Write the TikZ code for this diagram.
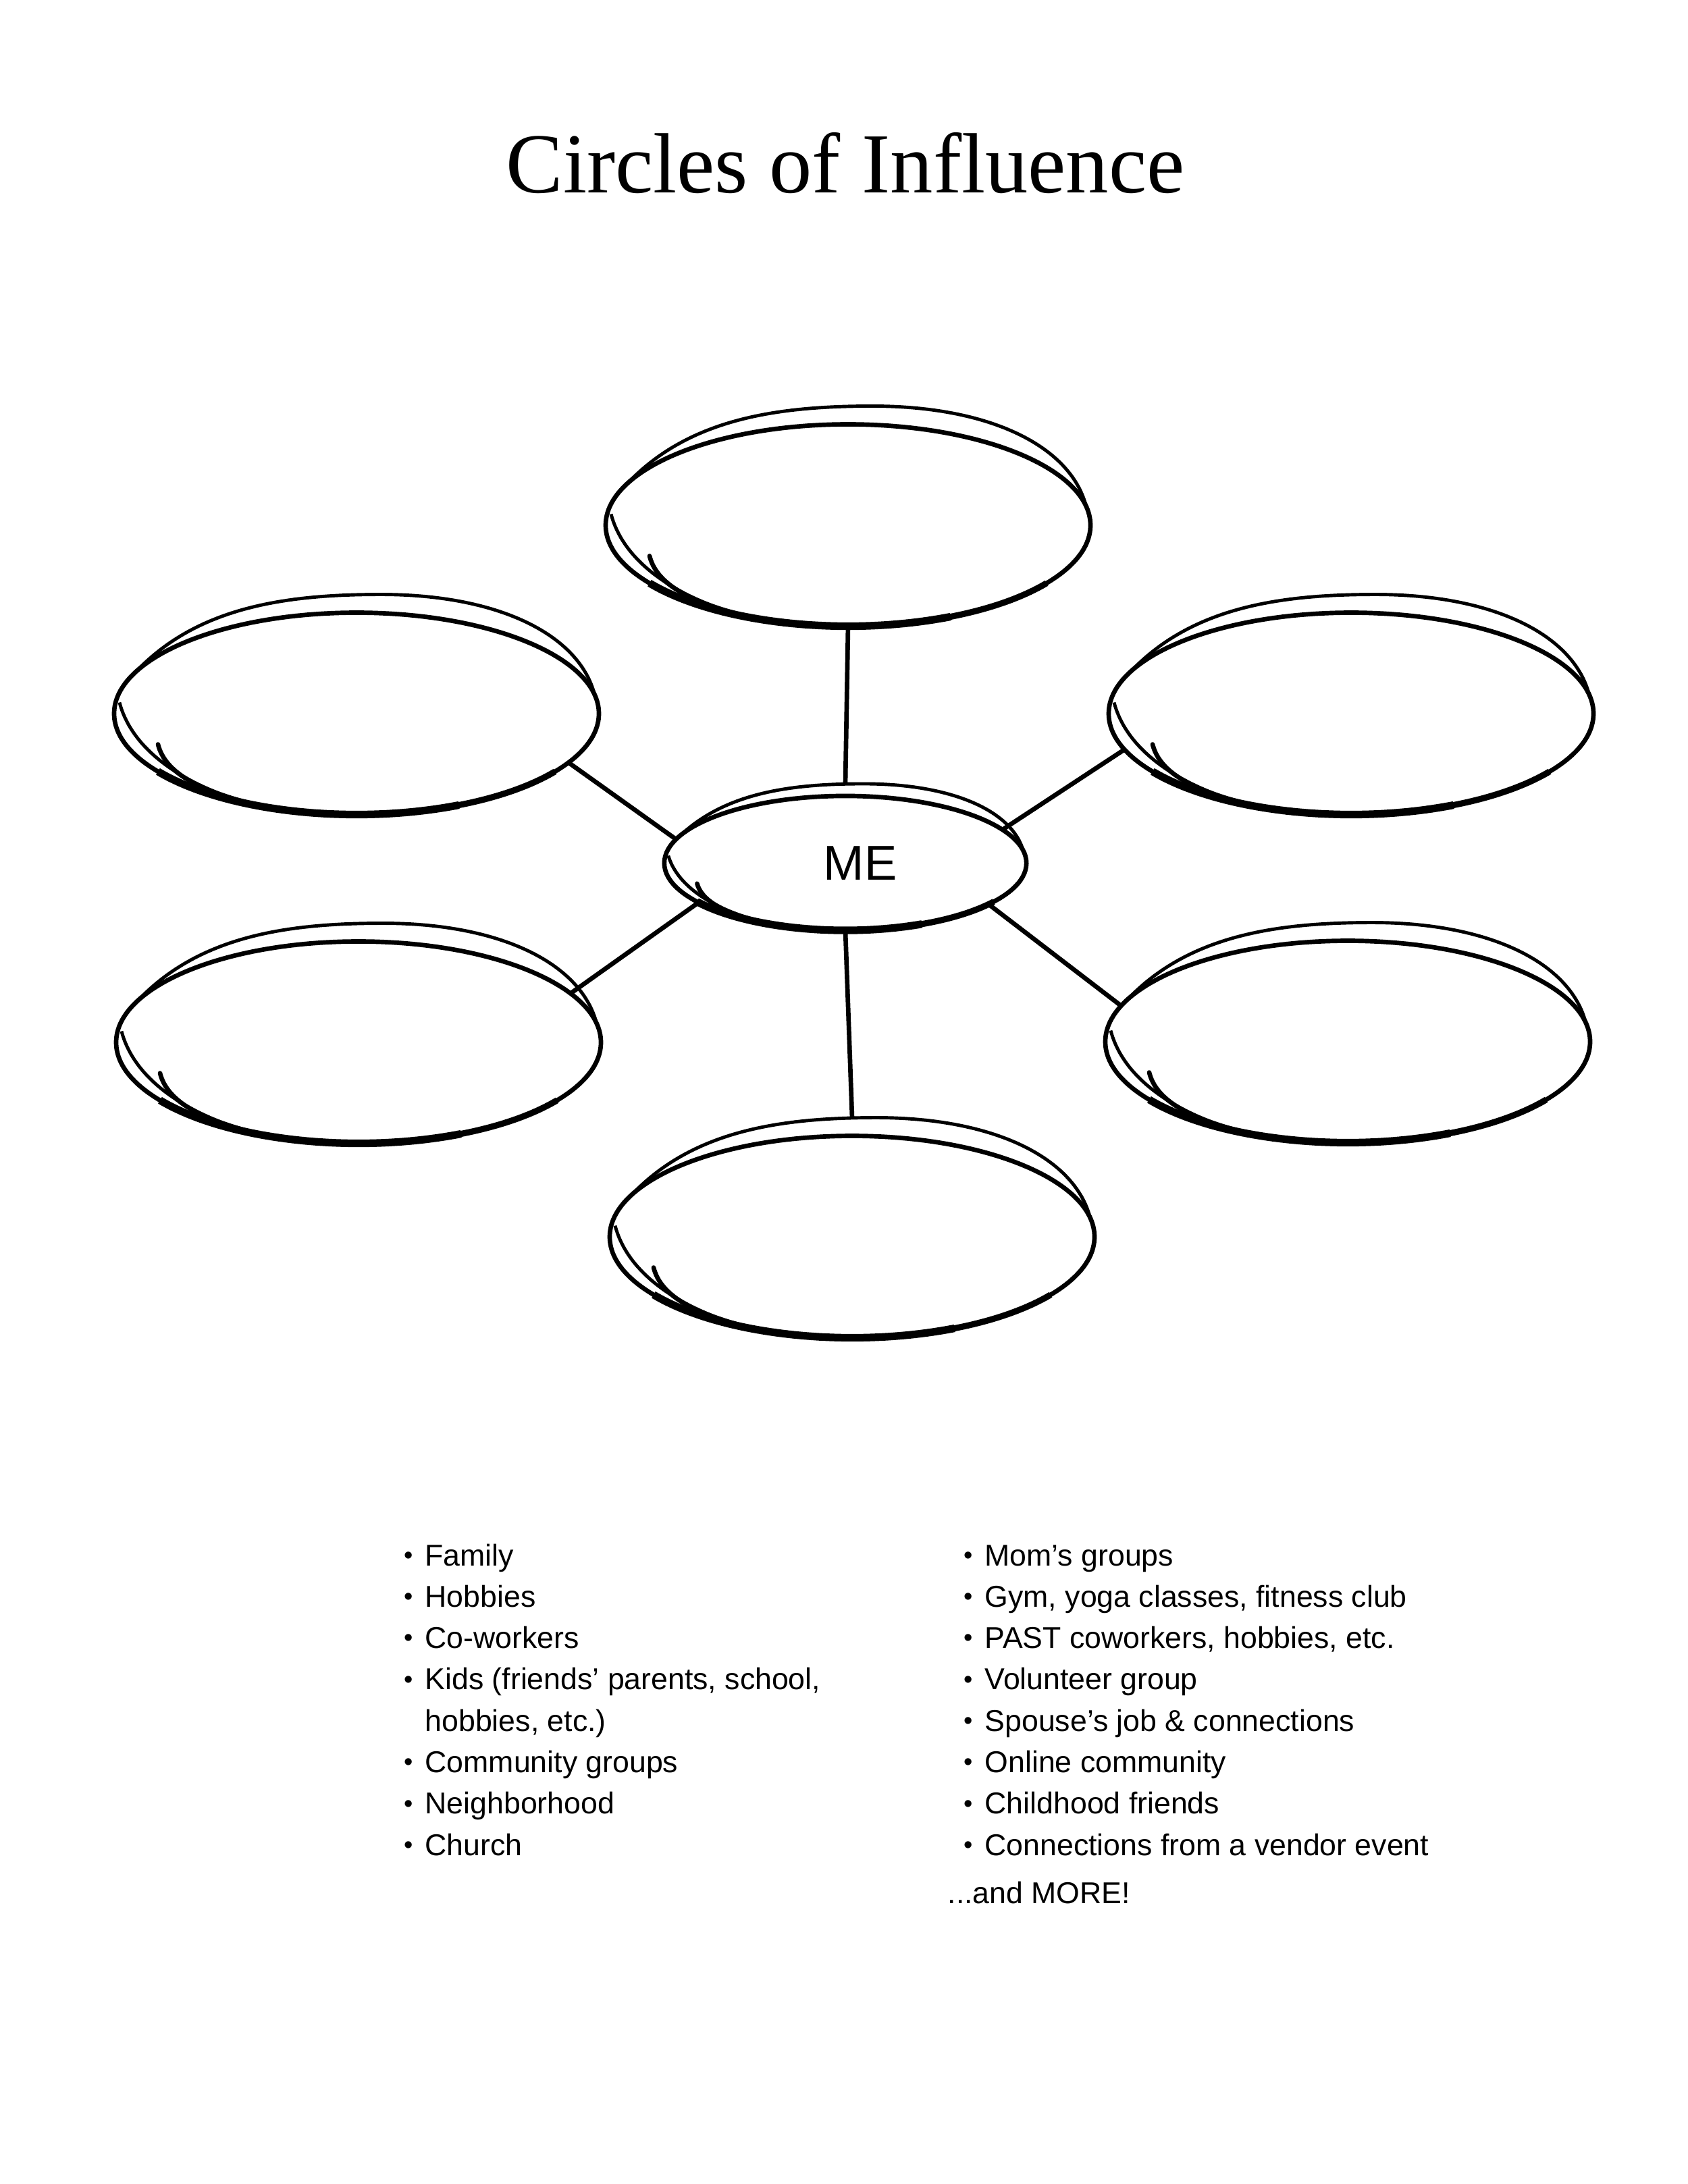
\documentclass[tikz,border=0pt]{standalone}
\usepackage{fontspec}
\setmainfont{Liberation Sans}
\newfontfamily\headfont{Liberation Serif}
\usetikzlibrary{shapes.geometric}

\tikzset{
  rim/.style={line width=1.9pt},
  echo/.style={line width=1.4pt},
  link/.style={line width=1.9pt},
  ring/.style={ellipse, inner sep=0pt, outer sep=0pt,
    minimum width=7.18cm, minimum height=2.99cm},
  listtext/.style={anchor=base west, inner sep=0pt,
    font=\fontsize{12.7}{17.45}\selectfont},
  % hand-drawn oval: main loop, thick bottom, echo loops and start hook
  pics/bubble/.style={code={
    \draw[rim] (0,0) ellipse (3.59 and 1.495);
    \draw[rim, line width=3.2pt] (215:3.59 and 1.495)
      arc[start angle=215, end angle=295, x radius=3.59, y radius=1.495];
    \draw[rim, line width=2.6pt] (290:3.59 and 1.495)
      arc[start angle=290, end angle=325, x radius=3.59, y radius=1.495];
    \draw[echo] (-3.29,0.595) .. controls (-2.39,1.565) and (-1.09,1.765) .. (0.36,1.765)
      .. controls (2.11,1.765) and (3.31,1.165) .. (3.53,0.265);
    \draw[echo] (-3.51,0.165) .. controls (-3.34,-0.485) and (-2.69,-0.955) .. (-1.89,-1.235);
    \draw[rim, line cap=round] (-2.94,-0.455) .. controls (-2.84,-0.855) and (-2.39,-1.115) .. (-1.59,-1.325);
  }}
}
\newcommand{\bul}{\makebox[0.31cm][l]{\raisebox{0.12ex}{\scalebox{0.85}{•}}}}
\newcommand{\gap}{\hspace*{0.31cm}}

\begin{document}
\begin{tikzpicture}
    \useasboundingbox (0,0) rectangle (25,-32.35);
    \fill[white] (0,0) rectangle (25,-32.35);

    % Title
    \node[font=\headfont\fontsize{36}{40}\selectfont, anchor=base] (title) at (12.52,-2.85) {Circles of Influence};

    % Centre oval
    \node[ring, minimum width=5.36cm, minimum height=1.99cm,
      font=\fontsize{20.6}{24}\selectfont] (me) at (12.52,-12.785) {\hspace*{0.44cm}ME};
    \pic[xscale=0.747, yscale=0.666] at (me) {bubble};

    % Outer ovals
    \node[ring] (top) at (12.56,-7.78) {};
    \node[ring] (ul) at (5.28,-10.57) {};
    \node[ring] (ur) at (20.01,-10.57) {};
    \node[ring] (ll) at (5.31,-15.44) {};
    \node[ring] (lr) at (19.96,-15.43) {};
    \node[ring] (bot) at (12.62,-18.32) {};
    \foreach \n in {top,ul,ur,ll,lr,bot}
        \pic at (\n) {bubble};

    % Spokes
    \draw[link] (top.south) -- ([yshift=1.8mm]me.north);
    \draw[link] (me.south) -- ([yshift=2.7mm]bot.north);
    \draw[link] (ul.-13) -- (me.172);
    \draw[link] (ur.-171) -- (me.12);
    \draw[link] (ll.13) -- (me.195);
    \draw[link] (lr.171) -- (me.-16);

    % Lists
    \foreach \pre/\txt [count=\i] in {\bul/Family, \bul/Hobbies, \bul/Co-workers,
        \bul/{Kids (friends’ parents, school,}, \gap/{hobbies, etc.)},
        \bul/Community groups, \bul/Neighborhood, \bul/Church}
        \node[listtext] (l\i) at (5.98,{-23.19-0.613*(\i-1)}) {\pre\txt};

    \foreach \txt [count=\i] in {Mom’s groups, {Gym, yoga classes, fitness club},
        {PAST coworkers, hobbies, etc.}, Volunteer group, Spouse’s job \& connections,
        Online community, Childhood friends, Connections from a vendor event}
        \node[listtext] (r\i) at (14.27,{-23.19-0.613*(\i-1)}) {\bul\txt};

    \node[listtext] (more) at (14.03,-28.19) {...and MORE!};

\end{tikzpicture}
\end{document}
